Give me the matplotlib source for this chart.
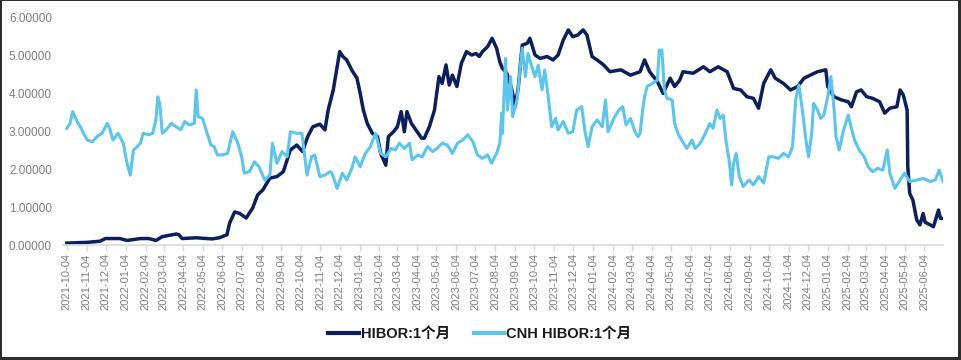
import matplotlib
matplotlib.use("Agg")
from matplotlib import pyplot as plt
import matplotlib.dates as mdates
import matplotlib.patches as mpatches
import pandas as pd

# HIBOR:1个月
hibor_dates = [
    "2021-10-04", "2021-11-05", "2021-11-25", "2021-12-03", "2021-12-26", "2022-01-06", "2022-01-27", "2022-02-09", "2022-02-20", "2022-03-02",
    "2022-03-24", "2022-03-28", "2022-04-02", "2022-04-24", "2022-05-19", "2022-05-30", "2022-06-11", "2022-06-15", "2022-06-23", "2022-07-01",
    "2022-07-11", "2022-07-21", "2022-07-29", "2022-08-06", "2022-08-17", "2022-08-28", "2022-09-07", "2022-09-18", "2022-09-28", "2022-10-07",
    "2022-10-15", "2022-10-23", "2022-11-03", "2022-11-11", "2022-11-16", "2022-11-24", "2022-11-30", "2022-12-04", "2022-12-09", "2022-12-15",
    "2022-12-23", "2022-12-31", "2023-01-05", "2023-01-10", "2023-01-16", "2023-01-24", "2023-02-01", "2023-02-06", "2023-02-14", "2023-02-18",
    "2023-02-26", "2023-03-04", "2023-03-10", "2023-03-15", "2023-03-19", "2023-03-26", "2023-04-02", "2023-04-11", "2023-04-15", "2023-04-23",
    "2023-05-01", "2023-05-08", "2023-05-13", "2023-05-19", "2023-05-24", "2023-05-29", "2023-06-05", "2023-06-12", "2023-06-20", "2023-06-28",
    "2023-07-05", "2023-07-10", "2023-07-15", "2023-07-23", "2023-07-30", "2023-08-06", "2023-08-11", "2023-08-15", "2023-08-22", "2023-08-30",
    "2023-09-04", "2023-09-09", "2023-09-15", "2023-09-23", "2023-09-27", "2023-10-05", "2023-10-13", "2023-10-24", "2023-11-02", "2023-11-10",
    "2023-11-18", "2023-11-26", "2023-12-03", "2023-12-11", "2023-12-19", "2023-12-25", "2024-01-02", "2024-01-10", "2024-01-20", "2024-01-30",
    "2024-02-16", "2024-03-02", "2024-03-17", "2024-03-24", "2024-04-01", "2024-04-13", "2024-04-22", "2024-05-03", "2024-05-10", "2024-05-18",
    "2024-05-23", "2024-06-08", "2024-06-24", "2024-07-04", "2024-07-17", "2024-07-31", "2024-08-10", "2024-08-21", "2024-08-31", "2024-09-10",
    "2024-09-18", "2024-09-26", "2024-10-07", "2024-10-14", "2024-10-27", "2024-11-07", "2024-11-18", "2024-11-28", "2024-12-08", "2024-12-19",
    "2025-01-01", "2025-01-04", "2025-01-14", "2025-01-25", "2025-02-05", "2025-02-10", "2025-02-18", "2025-02-25", "2025-03-06", "2025-03-15",
    "2025-03-26", "2025-04-03", "2025-04-11", "2025-04-22", "2025-04-27", "2025-05-02", "2025-05-08", "2025-05-09", "2025-05-12", "2025-05-17",
    "2025-05-23", "2025-05-28", "2025-06-02", "2025-06-05", "2025-06-13", "2025-06-18", "2025-06-26", "2025-06-29", "2025-07-03",
]
hibor_vals = [
    0.05, 0.07, 0.10, 0.17, 0.17, 0.12, 0.17, 0.17, 0.12, 0.22,
    0.29, 0.27, 0.17, 0.19, 0.16, 0.19, 0.27, 0.57, 0.87, 0.83,
    0.71, 0.97, 1.32, 1.45, 1.76, 1.80, 1.93, 2.50, 2.63, 2.46,
    2.85, 3.11, 3.18, 3.03, 3.55, 4.08, 4.69, 5.09, 4.96, 4.87,
    4.60, 4.39, 3.99, 3.55, 3.20, 2.94, 2.85, 2.41, 2.10, 2.85,
    2.98, 3.11, 3.51, 2.98, 3.51, 3.20, 3.03, 2.81, 2.81, 3.11,
    3.55, 4.43, 4.25, 4.74, 4.21, 4.47, 4.17, 4.78, 5.09, 5.00,
    5.04, 4.96, 5.09, 5.22, 5.44, 5.18, 4.82, 4.65, 4.52, 4.08,
    3.64, 4.17, 5.26, 5.31, 5.44, 5.00, 4.91, 4.96, 4.87, 5.00,
    5.39, 5.66, 5.48, 5.53, 5.66, 5.53, 4.96, 4.87, 4.74, 4.56,
    4.61, 4.47, 4.56, 4.87, 4.56, 4.30, 3.99, 4.39, 4.17, 4.34,
    4.56, 4.52, 4.69, 4.56, 4.69, 4.56, 4.12, 4.08, 3.90, 3.86,
    3.60, 4.25, 4.61, 4.39, 4.25, 4.08, 4.17, 4.39, 4.47, 4.56,
    4.61, 4.17, 3.90, 3.82, 3.77, 3.64, 4.03, 4.08, 3.90, 3.86,
    3.77, 3.47, 3.60, 3.64, 4.08, 3.95, 3.55, 2.06, 1.36, 1.18,
    0.66, 0.53, 0.83, 0.60, 0.53, 0.48, 0.92, 0.70, 0.70,
]

# CNH HIBOR:1个月
cnh_dates = [
    "2021-10-04", "2021-10-09", "2021-10-13", "2021-10-20", "2021-10-25", "2021-10-30", "2021-11-05", "2021-11-13", "2021-11-20", "2021-11-28",
    "2021-12-06", "2021-12-10", "2021-12-15", "2021-12-23", "2021-12-31", "2022-01-06", "2022-01-11", "2022-01-16", "2022-01-22", "2022-01-27",
    "2022-01-31", "2022-02-09", "2022-02-15", "2022-02-20", "2022-02-23", "2022-02-26", "2022-03-02", "2022-03-08", "2022-03-16", "2022-03-24",
    "2022-03-31", "2022-04-06", "2022-04-13", "2022-04-21", "2022-04-24", "2022-04-27", "2022-05-04", "2022-05-11", "2022-05-17", "2022-05-22",
    "2022-05-27", "2022-06-04", "2022-06-12", "2022-06-20", "2022-06-28", "2022-07-04", "2022-07-08", "2022-07-16", "2022-07-24", "2022-07-31",
    "2022-08-09", "2022-08-17", "2022-08-21", "2022-08-28", "2022-09-05", "2022-09-13", "2022-09-18", "2022-09-28", "2022-10-06", "2022-10-14",
    "2022-10-21", "2022-10-26", "2022-11-03", "2022-11-11", "2022-11-19", "2022-11-22", "2022-11-30", "2022-12-08", "2022-12-15", "2022-12-23",
    "2022-12-28", "2023-01-05", "2023-01-13", "2023-01-21", "2023-01-29", "2023-02-06", "2023-02-14", "2023-02-22", "2023-03-01", "2023-03-07",
    "2023-03-15", "2023-03-23", "2023-03-27", "2023-04-05", "2023-04-12", "2023-04-20", "2023-04-28", "2023-05-05", "2023-05-13", "2023-05-21",
    "2023-05-29", "2023-06-06", "2023-06-14", "2023-06-22", "2023-06-30", "2023-07-07", "2023-07-15", "2023-07-23", "2023-07-29", "2023-08-06",
    "2023-08-11", "2023-08-14", "2023-08-15", "2023-08-20", "2023-08-23", "2023-08-28", "2023-08-31", "2023-09-07", "2023-09-12", "2023-09-15",
    "2023-09-20", "2023-09-24", "2023-09-30", "2023-10-05", "2023-10-10", "2023-10-16", "2023-10-20", "2023-10-25", "2023-10-31", "2023-11-06",
    "2023-11-10", "2023-11-18", "2023-11-26", "2023-12-03", "2023-12-09", "2023-12-17", "2023-12-22", "2023-12-27", "2024-01-02", "2024-01-10",
    "2024-01-18", "2024-01-23", "2024-01-27", "2024-02-05", "2024-02-13", "2024-02-19", "2024-02-24", "2024-03-02", "2024-03-09", "2024-03-14",
    "2024-03-17", "2024-03-21", "2024-03-24", "2024-03-28", "2024-04-05", "2024-04-13", "2024-04-16", "2024-04-20", "2024-04-24", "2024-04-28",
    "2024-05-06", "2024-05-10", "2024-05-15", "2024-05-21", "2024-05-29", "2024-06-06", "2024-06-11", "2024-06-19", "2024-06-27", "2024-07-04",
    "2024-07-09", "2024-07-15", "2024-07-20", "2024-07-25", "2024-07-29", "2024-08-03", "2024-08-07", "2024-08-10", "2024-08-14", "2024-08-19",
    "2024-08-25", "2024-09-03", "2024-09-10", "2024-09-18", "2024-09-26", "2024-10-04", "2024-10-11", "2024-10-19", "2024-10-27", "2024-11-04",
    "2024-11-10", "2024-11-15", "2024-11-20", "2024-11-26", "2024-12-01", "2024-12-05", "2024-12-10", "2024-12-13", "2024-12-19", "2024-12-24",
    "2024-12-29", "2025-01-04", "2025-01-09", "2025-01-14", "2025-01-17", "2025-01-22", "2025-01-28", "2025-02-05", "2025-02-10", "2025-02-15",
    "2025-02-22", "2025-03-02", "2025-03-08", "2025-03-15", "2025-03-23", "2025-03-31", "2025-04-07", "2025-04-11", "2025-04-19", "2025-04-27",
    "2025-05-04", "2025-05-12", "2025-05-23", "2025-06-02", "2025-06-13", "2025-06-21", "2025-06-27", "2025-07-03",
]
cnh_vals = [
    3.07, 3.20, 3.51, 3.25, 3.11, 2.94, 2.76, 2.72, 2.85, 2.94,
    3.20, 3.07, 2.76, 2.94, 2.68, 2.15, 1.84, 2.50, 2.59, 2.68,
    2.94, 2.90, 2.94, 3.29, 3.90, 3.73, 2.94, 3.03, 3.20, 3.11,
    3.03, 3.25, 3.16, 3.20, 4.08, 3.38, 3.33, 2.94, 2.63, 2.59,
    2.37, 2.37, 2.41, 2.98, 2.68, 2.32, 1.89, 1.93, 2.19, 2.06,
    1.71, 1.84, 2.68, 2.15, 2.46, 2.32, 2.98, 2.94, 2.94, 1.84,
    2.32, 2.37, 1.80, 1.84, 1.93, 1.89, 1.49, 1.89, 1.71, 2.02,
    2.32, 2.06, 2.41, 2.59, 2.94, 2.41, 2.32, 2.54, 2.50, 2.68,
    2.54, 2.68, 2.24, 2.37, 2.32, 2.59, 2.46, 2.54, 2.68, 2.63,
    2.41, 2.68, 2.76, 2.90, 2.72, 2.37, 2.28, 2.37, 2.15, 2.41,
    2.68, 3.47, 2.94, 4.91, 3.55, 4.43, 3.38, 3.82, 4.69, 5.18,
    4.43, 5.04, 4.69, 4.43, 4.73, 4.08, 4.60, 3.99, 3.11, 3.33,
    3.03, 3.25, 2.94, 2.98, 3.55, 3.64, 2.98, 2.59, 3.11, 3.29,
    3.11, 3.82, 2.98, 3.33, 3.55, 3.64, 3.16, 3.33, 2.98, 2.85,
    2.94, 3.55, 3.90, 4.17, 4.25, 4.34, 5.13, 5.13, 4.08, 3.86,
    3.82, 3.20, 2.94, 2.76, 2.54, 2.76, 2.54, 2.68, 2.94, 3.20,
    3.07, 3.55, 3.33, 3.42, 2.76, 2.24, 1.58, 2.15, 2.41, 1.80,
    1.54, 1.71, 1.58, 1.80, 1.63, 2.32, 2.32, 2.28, 2.41, 2.32,
    2.59, 3.82, 4.21, 3.47, 2.76, 2.32, 2.94, 3.73, 3.55, 3.33,
    3.42, 3.90, 4.43, 3.55, 2.85, 2.50, 2.98, 3.42, 3.07, 2.76,
    2.50, 2.32, 2.06, 1.93, 2.02, 1.97, 2.50, 1.89, 1.49, 1.71,
    1.89, 1.67, 1.71, 1.75, 1.67, 1.71, 1.97, 1.67,
]

hibor_label = "HIBOR:1个月"
cnh_label = "CNH HIBOR:1个月"
y_ticks = [0, 1, 2, 3, 4, 5, 6]

fam = ["Liberation Sans", "Noto Sans CJK SC", "DejaVu Sans"]
plt.rcParams["font.family"] = fam

fig = plt.figure(figsize=(9.62, 3.6), dpi=100)
fig.patch.set_facecolor("#2e2e2e")
# white page inside the dark screenshot border
page = mpatches.Rectangle((2 / 962, 3 / 360), 956 / 962, 356 / 360,
                          transform=fig.transFigure, facecolor="white",
                          edgecolor="none", zorder=-10)
fig.add_artist(page)

ax = fig.add_axes([63 / 962, 115 / 360, 880 / 962, 228 / 360])
ax.set_zorder(1)
ax.patch.set_alpha(0)

ax.plot(pd.to_datetime(hibor_dates), hibor_vals, color="#0b1f5e", lw=2.5,
        label=hibor_label, solid_joinstyle="round")
ax.plot(pd.to_datetime(cnh_dates), cnh_vals, color="#5ac6ef", lw=2.2,
        label=cnh_label, solid_joinstyle="round")

ax.set_xlim(pd.Timestamp("2021-09-28"), pd.Timestamp("2025-07-03"))
ax.set_ylim(0, 6)
ax.set_yticks(y_ticks)
ax.yaxis.set_major_formatter(matplotlib.ticker.FormatStrFormatter("%.5f"))

ax.xaxis.set_major_locator(mdates.MonthLocator(bymonthday=4))
ax.xaxis.set_major_formatter(mdates.DateFormatter("%Y-%m-%d"))

for s in ["top", "right", "left"]:
    ax.spines[s].set_visible(False)
ax.spines["bottom"].set_color("#d9d9d9")
ax.spines["bottom"].set_linewidth(1.2)

ax.tick_params(axis="y", length=0, pad=8, labelsize=8.5, labelcolor="#7f7f7f")
ax.tick_params(axis="x", length=4, width=1, color="#d9d9d9", pad=2,
               labelsize=8, labelcolor="#7f7f7f", labelrotation=90)

leg = fig.legend(loc="center", bbox_to_anchor=(480 / 962, 1 - 334 / 360), ncol=2,
                 frameon=False, handlelength=2.1, handletextpad=0.15,
                 columnspacing=1.6, prop={"family": fam, "weight": "bold", "size": 10.5})
for t in leg.get_texts():
    t.set_color("#1a1a1a")
for h in leg.get_lines():
    h.set_linewidth(3)

fig.savefig("out.png", dpi=100, facecolor=fig.get_facecolor())
